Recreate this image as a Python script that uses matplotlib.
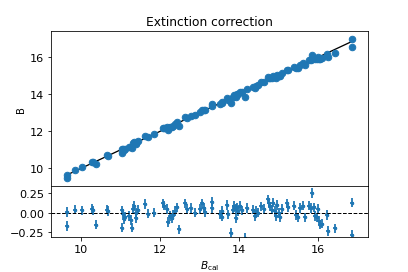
import numpy as np
from matplotlib import pyplot as plt

# calibrated magnitude and residual (B - fit)
bcal = [
    9.65, 9.65, 9.85, 10.02, 10.27, 10.30, 10.38, 10.66, 10.67, 11.03,
    11.03, 11.06, 11.08, 11.10, 11.20, 11.25, 11.29, 11.32, 11.35, 11.38,
    11.40, 11.44, 11.62, 11.70, 11.85, 12.06, 12.10, 12.17, 12.21, 12.26,
    12.29, 12.32, 12.38, 12.43, 12.49, 12.64, 12.68, 12.77, 12.88, 13.00,
    13.05, 13.10, 13.13, 13.32, 13.32, 13.52, 13.56, 13.58, 13.69, 13.73,
    13.79, 13.84, 13.88, 13.91, 13.92, 13.95, 13.98, 14.03, 14.08, 14.16,
    14.20, 14.35, 14.40, 14.43, 14.49, 14.56, 14.62, 14.74, 14.77, 14.79,
    14.83, 14.87, 14.90, 14.93, 14.96, 15.00, 15.03, 15.08, 15.21, 15.25,
    15.40, 15.45, 15.49, 15.55, 15.62, 15.66, 15.76, 15.82, 15.85, 15.89,
    15.93, 15.97, 15.99, 16.03, 16.06, 16.10, 16.23, 16.26, 16.44, 16.85,
    16.85,
]
resid = [
    0.01, -0.17, 0.04, 0.03, 0.05, 0.03, -0.15, 0.04, 0.02, 0.03,
    -0.19, -0.01, -0.08, -0.05, -0.04, -0.09, -0.19, 0.05, 0.09, 0.00,
    -0.07, 0.04, 0.11, -0.01, 0.00, 0.12, 0.09, 0.05, -0.12, -0.04,
    -0.07, -0.03, 0.02, 0.07, -0.21, 0.12, 0.05, 0.06, 0.00, 0.05,
    0.12, 0.06, 0.01, 0.14, 0.06, -0.02, -0.05, 0.02, 0.10, -0.02,
    -0.26, 0.04, 0.09, -0.07, 0.05, 0.07, 0.02, 0.09, 0.03, -0.32,
    0.06, 0.04, -0.04, 0.02, 0.00, 0.08, 0.05, 0.17, 0.12, 0.08,
    0.04, 0.13, 0.02, -0.04, 0.10, 0.00, -0.06, 0.05, 0.12, 0.07,
    0.09, -0.03, -0.06, 0.06, 0.09, -0.06, 0.09, 0.06, 0.25, 0.07,
    -0.04, -0.06, 0.05, -0.10, -0.15, -0.14, -0.03, -0.23, -0.20, 0.13,
    -0.28,
]
bcal_err = 0.05
b_err = 0.06

bcal = np.array(bcal)
resid = np.array(resid)
b_obs = bcal + resid

fig = plt.figure(figsize=(5.68, 3.79), dpi=72)
ax_top = fig.add_axes([0.1247, 0.315, 0.775, 0.568])
ax_bot = fig.add_axes([0.1247, 0.128, 0.775, 0.187], sharex=ax_top)

# top panel: observed vs calibrated with fitted line
ax_top.errorbar(bcal, b_obs, xerr=bcal_err, yerr=b_err, fmt="o", color="C0", markersize=6.5)
line_x = np.array([bcal.min(), bcal.max()])
ax_top.plot(line_x, line_x, color="black", linewidth=1.3)
ax_top.set_ylabel("B", fontsize=10)
ax_top.set_title("Extinction correction", fontsize=12.2)
ax_top.tick_params(labelbottom=False, labelsize=11.3)

# bottom panel: residuals
ax_bot.errorbar(bcal, resid, xerr=bcal_err, yerr=b_err, fmt=".", color="C0",
                markersize=5, elinewidth=1.8)
ax_bot.axhline(0, color="black", linestyle="--", linewidth=1)
ax_bot.set_ylim(-0.31, 0.34)
ax_bot.set_yticks([-0.25, 0.0, 0.25])
ax_bot.set_xlabel(r"$B_{\rm cal}$", fontsize=10.5)
ax_bot.set_xticks([10, 12, 14, 16])
ax_bot.tick_params(labelsize=11.3)

plt.savefig("out.png", dpi=72)
plt.close()
